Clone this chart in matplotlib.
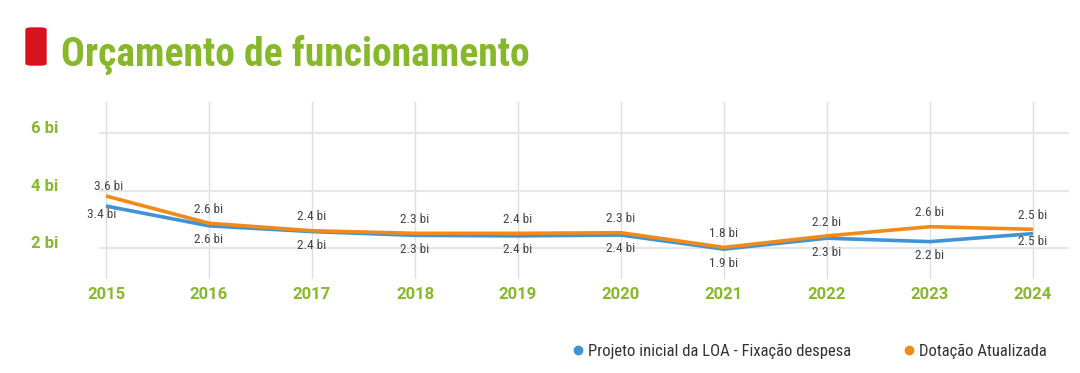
import matplotlib
matplotlib.use('Agg')
import matplotlib.pyplot as plt
from matplotlib import font_manager
from matplotlib.lines import Line2D
from matplotlib.patches import FancyBboxPatch

# dados
anos = ['2015', '2016', '2017', '2018', '2019', '2020', '2021', '2022', '2023', '2024']
projeto_loa = [3.47, 2.78, 2.58, 2.45, 2.43, 2.46, 1.97, 2.35, 2.23, 2.51]
dotacao = [3.82, 2.87, 2.61, 2.52, 2.52, 2.54, 2.03, 2.43, 2.75, 2.66]
rotulos_loa = ['3.4 bi', '2.6 bi', '2.4 bi', '2.3 bi', '2.4 bi', '2.4 bi', '1.9 bi', '2.3 bi', '2.2 bi', '2.5 bi']
rotulos_dotacao = ['3.6 bi', '2.6 bi', '2.4 bi', '2.3 bi', '2.4 bi', '2.3 bi', '1.8 bi', '2.2 bi', '2.6 bi', '2.5 bi']
y_ticks = [2, 4, 6]
y_tick_labels = ['2 bi', '4 bi', '6 bi']

titulo = 'Orçamento de funcionamento'
nome_loa = 'Projeto inicial da LOA - Fixação despesa'
nome_dotacao = 'Dotação Atualizada'

VERDE = '#86b82a'
AZUL = '#3f93d6'
LARANJA = '#f28a1a'
VERMELHO = '#d7141e'


def pick_font(cands):
    # primeira fonte condensada que existir
    for c in cands:
        try:
            font_manager.findfont(c, fallback_to_default=False)
            return c
        except Exception:
            pass
    return 'DejaVu Sans'


narrow = pick_font(['Roboto Condensed', 'Liberation Sans Narrow', 'Roboto'])
base = pick_font(['Roboto', 'DejaVu Sans'])

fig = plt.figure(figsize=(10.8, 3.73), dpi=100)
ax = fig.add_axes([99 / 1080, 1 - 279 / 373, 970 / 1080, 177 / 373])

x = list(range(len(anos)))
ax.plot(x, projeto_loa, color=AZUL, lw=2.6, solid_capstyle='butt', zorder=3)
ax.plot(x, dotacao, color=LARANJA, lw=2.6, solid_capstyle='butt', zorder=4)

for i in x:
    dy = 7 if i == 0 else 10
    ax.annotate(rotulos_dotacao[i], (i, dotacao[i]), xytext=(2 if i == 0 else 0, dy), textcoords='offset points',
                ha='center', va='center', fontsize=9.5, color='#444444', family=narrow)
    dx = -3 if i == 0 else 0
    dy = -6 if i in (0, 9) else -10
    ax.annotate(rotulos_loa[i], (i, projeto_loa[i]), xytext=(dx, dy), textcoords='offset points',
                ha='center', va='center', fontsize=9.5, color='#444444', family=narrow)

ax.set_xlim(-0.068, 9.35)
ax.set_ylim(0.93, 7.09)
ax.set_xticks(x)
ax.set_xticklabels(anos)
ax.set_yticks(y_ticks)
ax.set_yticklabels(y_tick_labels)
for s in ax.spines.values():
    s.set_visible(False)
ax.tick_params(axis='both', length=0)
ax.tick_params(axis='x', pad=6)
ax.tick_params(axis='y', pad=49)
for lbl in ax.get_xticklabels() + ax.get_yticklabels():
    lbl.set_color(VERDE)
    lbl.set_fontweight('bold')
    lbl.set_fontsize(12)
    lbl.set_family(base)
for lbl in ax.get_yticklabels():
    lbl.set_horizontalalignment('left')
    lbl.set_verticalalignment('baseline')

ax.xaxis.grid(True, color='#dedede', lw=1)
ax.yaxis.grid(True, color='#e6e6e6', lw=1.6)
ax.set_axisbelow(True)

# titulo
fig.patches.append(FancyBboxPatch((26 / 1080, 1 - 65 / 373), 20 / 1080, 37 / 373,
                                  boxstyle='round,pad=0,rounding_size=0.005',
                                  transform=fig.transFigure, color=VERMELHO))
fig.text(61 / 1080, 1 - 66 / 373, titulo, fontsize=28.5, fontweight='bold', color=VERDE,
         family=narrow, va='baseline', ha='left')

handles = [Line2D([], [], marker='o', ls='', color=AZUL, markersize=6),
           Line2D([], [], marker='o', ls='', color=LARANJA, markersize=6)]
fig.legend(handles, [nome_loa, nome_dotacao], loc='center right', bbox_to_anchor=(1062 / 1080, 1 - 351 / 373),
           ncol=2, frameon=False, handletextpad=0.1, columnspacing=3.0, handlelength=1.0,
           prop={'family': narrow, 'size': 12}, labelcolor='#333333')

fig.savefig('out.png', dpi=100)
